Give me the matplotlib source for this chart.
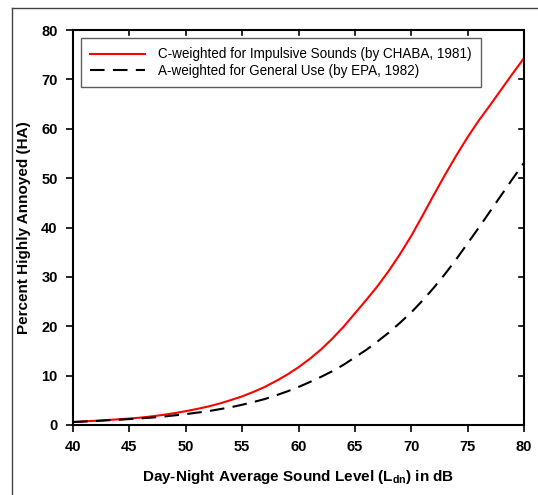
import matplotlib
matplotlib.use("Agg")
import matplotlib.pyplot as plt
from matplotlib.lines import Line2D

plt.rcParams['font.family'] = ['Liberation Sans', 'DejaVu Sans']
plt.rcParams['mathtext.fontset'] = 'custom'
plt.rcParams['mathtext.rm'] = 'Liberation Sans:bold'
plt.rcParams['mathtext.it'] = 'Liberation Sans:bold'
plt.rcParams['mathtext.bf'] = 'Liberation Sans:bold'

ldn = list(range(40, 81))
ha_c_chaba = [0.6, 0.75, 0.85, 1.0, 1.15, 1.3, 1.5, 1.75, 2.05, 2.4,
              2.8, 3.25, 3.75, 4.35, 5.05, 5.8, 6.7, 7.7, 8.9, 10.2,
              11.7, 13.4, 15.3, 17.5, 19.9, 22.6, 25.3, 28.1, 31.2, 34.6,
              38.3, 42.4, 46.6, 50.7, 54.6, 58.3, 61.7, 64.8, 68.0, 71.2, 74.3]
ha_a_epa = [0.6, 0.7, 0.8, 0.95, 1.05, 1.2, 1.35, 1.5, 1.7, 1.95,
            2.2, 2.5, 2.8, 3.2, 3.6, 4.1, 4.65, 5.25, 6.0, 6.8,
            7.7, 8.7, 9.75, 10.9, 12.2, 13.7, 15.2, 16.9, 18.7, 20.7,
            22.8, 25.2, 27.8, 30.6, 33.6, 36.8, 40.0, 43.3, 46.6, 49.9, 53.1]
labels = ['C-weighted for Impulsive Sounds (by CHABA, 1981)',
          'A-weighted for General Use (by EPA, 1982)']
xticks = [40, 45, 50, 55, 60, 65, 70, 75, 80]
yticks = [0, 10, 20, 30, 40, 50, 60, 70, 80]

W, H = 538, 495
fig = plt.figure(figsize=(W / 100, H / 100), dpi=100)
# outer frame (left and top edges)
fig.add_artist(Line2D([11.5 / W, 11.5 / W], [0, 1 - 7.5 / H], transform=fig.transFigure,
                      color='#444444', lw=1.0))
fig.add_artist(Line2D([11.5 / W, 1], [1 - 7.5 / H, 1 - 7.5 / H], transform=fig.transFigure,
                      color='#444444', lw=1.0))

L, R, T, B = 73, 524, 30, 425
ax = fig.add_axes([L / W, 1 - B / H, (R - L) / W, (B - T) / H])

ax.plot(ldn, ha_c_chaba, color='#ff0000', lw=1.5, label=labels[0])
ax.plot(ldn, ha_a_epa, color='black', lw=1.5, dashes=(7, 4), label=labels[1])

ax.set_xlim(40, 80)
ax.set_ylim(0, 80)
ax.set_xticks(xticks)
ax.set_yticks(yticks)
for s in ax.spines.values():
    s.set_linewidth(1.5)
ax.tick_params(axis='both', which='major', direction='out', length=5, width=1.2,
               labelsize=10.5, pad=6)
for lab in ax.get_xticklabels() + ax.get_yticklabels():
    lab.set_fontweight('bold')

# inward ticks on top and right
for y in yticks[1:-1]:
    ax.plot([80, 80 - 0.45], [y, y], color='black', lw=1.2, clip_on=False)
for x in xticks[1:-1]:
    ax.plot([x, x], [80, 80 - 1.0], color='black', lw=1.2, clip_on=False)

ax.set_xlabel('Day-Night Average Sound Level (L$_{dn}$) in dB', fontsize=11,
              fontweight='bold', labelpad=10)
ax.set_ylabel('Percent Highly Annoyed (HA)', fontsize=11, fontweight='bold', labelpad=7)

leg = ax.legend(loc='upper left', bbox_to_anchor=(8 / (R - L), 1 - 8 / (B - T)), borderaxespad=0,
                fontsize=9.75, frameon=True, fancybox=False, handlelength=4.0,
                handletextpad=1.0, borderpad=0.7, labelspacing=0.15)
leg.get_frame().set_edgecolor('#333333')
leg.get_frame().set_linewidth(1.0)

fig.savefig('out.png', dpi=100)
